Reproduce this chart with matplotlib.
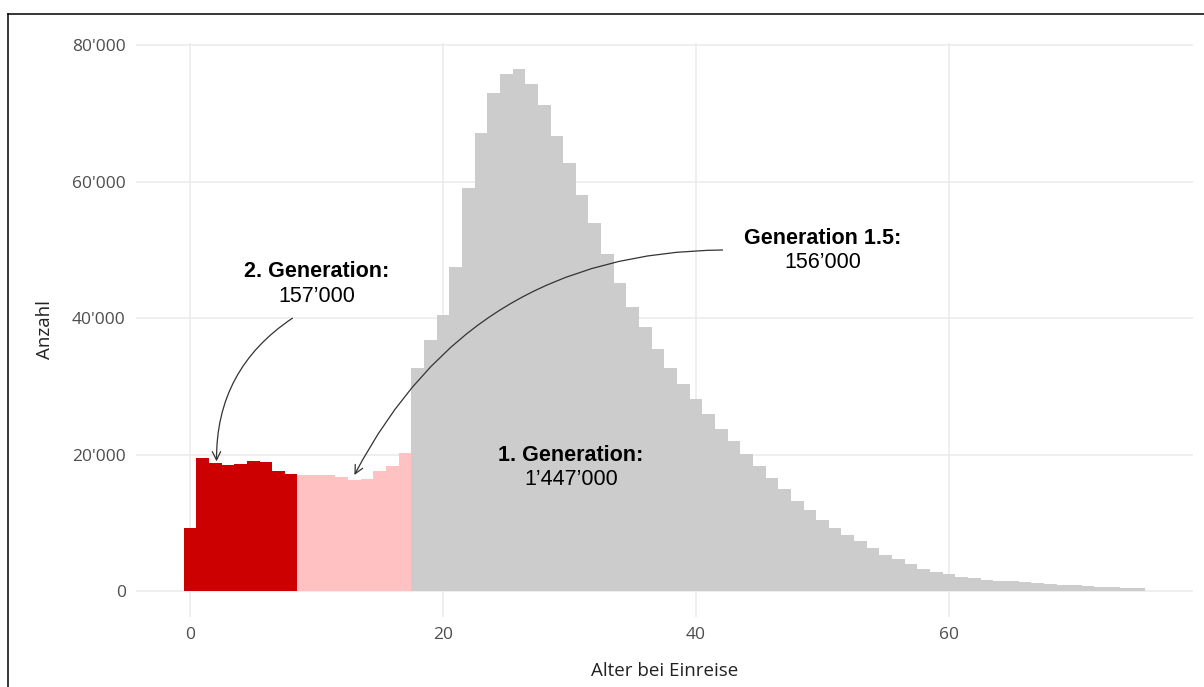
import matplotlib
matplotlib.use("Agg")
import matplotlib.pyplot as plt
from matplotlib.lines import Line2D
from matplotlib.ticker import FuncFormatter

# Data: age at entry (years) and counts
ages = list(range(0, 76))
counts = [
    9240, 19500, 18770, 18530, 18620, 19020, 18920, 17550, 17210,      # 0-8  (2. Generation)
    16970, 17060, 17060, 16670, 16330, 16480, 17650, 18280, 20190,     # 9-17 (Generation 1.5)
    32650, 36800, 40470, 47500, 59130, 67150, 73060, 75750, 76530,     # 18-26
    74380, 71250, 66710, 62750, 58060, 54000, 49410, 45200, 41690,     # 27-35
    38660, 35440, 32700, 30400, 28150, 25900, 23800, 22000, 20090,     # 36-44
    18370, 16610, 14960, 13240, 11920, 10410, 9240, 8210, 7330,        # 45-53
    6260, 5330, 4640, 3910, 3270, 2830, 2540, 2100, 1860,              # 54-62
    1660, 1470, 1420, 1320, 1220, 1030, 930, 830, 690,                 # 63-71
    590, 540, 490, 390,                                                # 72-75
]
group_labels = ["2. Generation", "Generation 1.5", "1. Generation"]
group_colors = ["#CC0000", "#FFC1C1", "#CCCCCC"]
group_bounds = [(0, 8), (9, 17), (18, 75)]

x_ticks = [0, 20, 40, 60]
y_ticks = [0, 20000, 40000, 60000, 80000]

ann_texts = [("2. Generation:", "157’000"), ("Generation 1.5:", "156’000"), ("1. Generation:", "1’447’000")]

fig = plt.figure(figsize=(12.04, 6.87), dpi=100)
ax = fig.add_axes([0.1126, 0.1019, 0.991 - 0.1126, 0.9374 - 0.1019])

for (lo, hi), col in zip(group_bounds, group_colors):
    xs = [a for a in ages if lo <= a <= hi]
    ys = [counts[a] for a in xs]
    ax.bar(xs, ys, width=1.0, color=col, edgecolor="none", linewidth=0, zorder=2)

ax.set_xlim(-4.3, 79.3)
ax.set_ylim(-3826, 80360)
ax.set_xticks(x_ticks)
ax.set_yticks(y_ticks)
ax.yaxis.set_major_formatter(FuncFormatter(lambda v, p: f"{int(v):,}".replace(",", "'")))
ax.grid(True, color="#EBEBEB", linewidth=1.1, zorder=0)
ax.set_axisbelow(True)
for s in ax.spines.values():
    s.set_visible(False)
ax.tick_params(axis="both", length=0, labelsize=12.5, labelcolor="#4D4D4D", pad=7)
for lab in ax.get_xticklabels() + ax.get_yticklabels():
    lab.set_family("Open Sans")

ax.set_xlabel("Alter bei Einreise", fontsize=13.5, family="Open Sans", color="#222222", labelpad=14)
ax.set_ylabel("Anzahl", fontsize=13.5, family="Open Sans", color="#222222", labelpad=13)

def label(x, y1, y2, bold, normal):
    ax.text(x, y1, bold, ha="center", va="center", fontsize=15.5, fontweight="bold",
            family="Liberation Sans", color="black", zorder=5)
    ax.text(x, y2, normal, ha="center", va="center", fontsize=15.5,
            family="Liberation Sans", color="black", zorder=5)

label(10, 46900, 43200, *ann_texts[0])
label(50, 51750, 48200, *ann_texts[1])
label(30.1, 19900, 16300, *ann_texts[2])

arrow_props = dict(arrowstyle="->,head_length=0.6,head_width=0.3", color="#333333", lw=0.9,
                   shrinkA=0, shrinkB=0)
ax.annotate("", xy=(2.1, 19000), xytext=(8.1, 40000),
            arrowprops=dict(connectionstyle="arc3,rad=0.27", **arrow_props), zorder=6)
ax.annotate("", xy=(13.0, 17000), xytext=(42.1, 50000),
            arrowprops=dict(connectionstyle="arc3,rad=0.3", **arrow_props), zorder=6)

# border lines of the original frame
x0 = 8 / 1204
y0 = 1 - 14 / 687
fig.add_artist(Line2D([x0, 1.0], [y0, y0], transform=fig.transFigure, color="black", lw=1.1))
fig.add_artist(Line2D([x0, x0], [y0, 0.0], transform=fig.transFigure, color="black", lw=1.1))

fig.savefig("out.png", dpi=100)
